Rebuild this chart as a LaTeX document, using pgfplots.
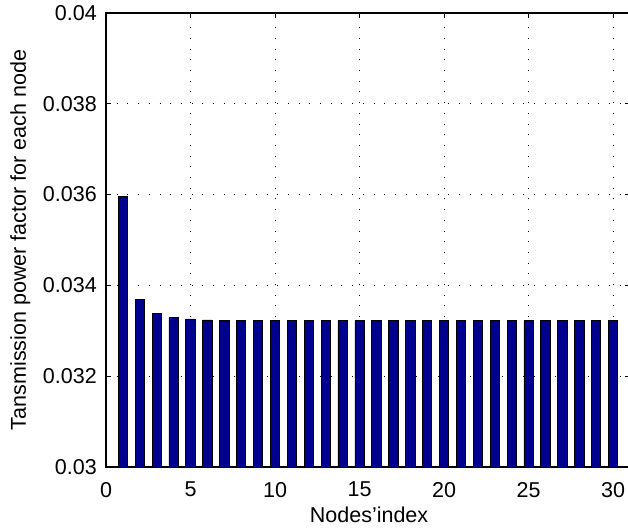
\documentclass[border=0pt]{standalone}
\usepackage{fontspec}
\setmainfont{Liberation Sans}
\usepackage{pgfplots}
\pgfplotsset{compat=1.18}
\definecolor{barblue}{RGB}{0,0,143}
\begin{document}
\begin{tikzpicture}
\begin{axis}[
  scale only axis, width=524pt, height=454pt,
  xmin=0, xmax=31, ymin=0.03, ymax=0.04,
  xtick={0,5,10,15,20,25,30},
  xticklabels={0,5,10,15,20,25,30},
  ytick={0.03,0.032,0.034,0.036,0.038,0.04},
  yticklabels={0.03,0.032,0.034,0.036,0.038,0.04},
  scaled y ticks=false,
  tick align=inside, major tick length=5pt,
  tick style={black, line width=0.9pt},
  axis line style={line width=1.3pt},
  grid=major,
  grid style={black, line width=0.9pt, dash pattern=on 1pt off 9.7pt},
  ticklabel style={font=\fontsize{21.5}{25}\selectfont, inner sep=0pt},
  yticklabel style={anchor=east, xshift=-9pt},
  xticklabel style={anchor=north, yshift=-15pt},
  xlabel={Nodes'index},
  ylabel={Tansmission power factor for each node},
  label style={font=\fontsize{21.5}{25}\selectfont, inner sep=0pt},
  xlabel style={at={(axis description cs:0.502,-0.1233)}, anchor=base},
  ylabel style={at={(axis description cs:-0.1527,0.5)}, anchor=base, rotate=0},
]
\addplot[ybar, bar width=0.55, bar shift=0pt, fill=barblue, draw=black, line width=0.8pt]
coordinates {
(1,0.03596) (2,0.03369) (3,0.03339) (4,0.03329) (5,0.03326) (6,0.03324)
(7,0.03323) (8,0.03322) (9,0.03322) (10,0.03322) (11,0.03322) (12,0.03322)
(13,0.03322) (14,0.03322) (15,0.03322) (16,0.03322) (17,0.03322) (18,0.03322)
(19,0.03322) (20,0.03322) (21,0.03322) (22,0.03322) (23,0.03322) (24,0.03322)
(25,0.03322) (26,0.03322) (27,0.03322) (28,0.03322) (29,0.03322) (30,0.03322)
};
\end{axis}
\pgfresetboundingbox
\path[use as bounding box] (-106pt,-60pt) rectangle (522pt,467pt);
\end{tikzpicture}
\end{document}
